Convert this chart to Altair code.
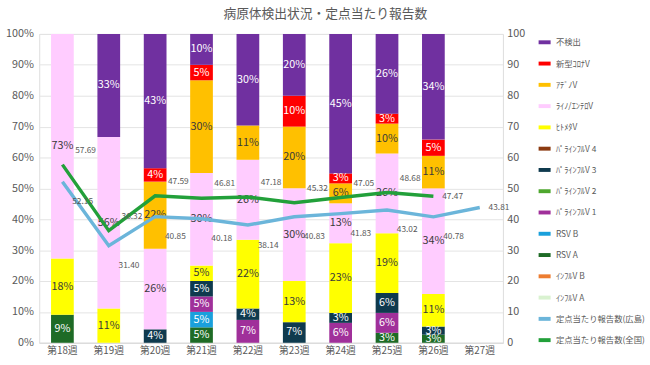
import altair as alt
import pandas as pd

FONT = "Noto Sans CJK JP"
GRAY = "#595959"

weeks = ["第18週", "第19週", "第20週", "第21週", "第22週", "第23週", "第24週", "第25週", "第26週", "第27週"]

# stacking order, bottom to top
names = ["ｲﾝﾌﾙV A", "ｲﾝﾌﾙV B", "RSV A", "RSV B", "ﾊﾟﾗｲﾝﾌﾙV 1", "ﾊﾟﾗｲﾝﾌﾙV 2",
         "ﾊﾟﾗｲﾝﾌﾙV 3", "ﾊﾟﾗｲﾝﾌﾙV 4", "ﾋﾄﾒﾀV", "ﾗｲﾉ/ｴﾝﾃﾛV", "ｱﾃﾞﾉV", "新型ｺﾛﾅV", "不検出"]
colors = ["#D9F2D0", "#ED7D31", "#1E6B26", "#1AA0DC", "#A0309A", "#4EA72E",
          "#0F3A4E", "#8B3A10", "#FFFF00", "#FFCCFF", "#FFC000", "#FF0000", "#7030A0"]

# percentage of samples per week (第18週 .. 第26週)
influ_a = [0, 0, 0, 0, 0, 0, 0, 0, 0]
influ_b = [0, 0, 0, 0, 0, 0, 0, 0, 0]
rsv_a = [9.09, 0, 0, 5, 0, 0, 0, 3.23, 2.63]
rsv_b = [0, 0, 0, 5, 0, 0, 0, 0, 0]
para1 = [0, 0, 0, 5, 7.41, 0, 6.45, 6.45, 0]
para2 = [0, 0, 0, 0, 0, 0, 0, 0, 0]
para3 = [0, 0, 4.35, 5, 3.70, 6.67, 3.23, 6.45, 2.63]
para4 = [0, 0, 0, 0, 0, 0, 0, 0, 0]
hmpv = [18.18, 11.11, 0, 5, 22.22, 13.33, 22.58, 19.35, 10.53]
rhino = [72.73, 55.56, 26.09, 30, 25.93, 30, 12.90, 25.81, 34.21]
adeno = [0, 0, 21.74, 30, 11.11, 20, 6.45, 9.68, 10.53]
covid = [0, 0, 4.35, 5, 0, 10, 3.23, 3.23, 5.26]
none_found = [0, 33.33, 43.48, 10, 29.63, 20, 45.16, 25.81, 34.21]
series = [influ_a, influ_b, rsv_a, rsv_b, para1, para2, para3, para4, hmpv, rhino, adeno, covid, none_found]

hiro_name = "定点当たり報告数(広島)"
zen_name = "定点当たり報告数(全国)"
hiroshima = [52.15, 31.40, 40.85, 40.18, 38.14, 40.83, 41.83, 43.02, 40.78, 43.81]
zenkoku = [57.69, 36.32, 47.59, 46.81, 47.18, 45.32, 47.05, 48.68, 47.47]
hiro_color = "#6BB5DA"
zen_color = "#22A03A"

dark_labels = ["ﾋﾄﾒﾀV", "ﾗｲﾉ/ｴﾝﾃﾛV", "ｱﾃﾞﾉV"]

rows = []
for i, (n, vals) in enumerate(zip(names, series)):
    for w, v in zip(weeks, vals):
        if v > 0:
            rows.append({"week": w, "name": n, "pct": v, "ord": i})
bars_df = pd.DataFrame(rows)

lrows = []
for k, (w, v) in enumerate(zip(weeks, hiroshima)):
    lrows.append({"week": w, "name": hiro_name, "val": v, "idx": k})
for k, (w, v) in enumerate(zip(weeks, zenkoku)):
    lrows.append({"week": w, "name": zen_name, "val": v, "idx": k})
line_df = pd.DataFrame(lrows)

legend_domain = names[::-1] + [hiro_name, zen_name]
legend_range = colors[::-1] + [hiro_color, zen_color]
color_scale = alt.Scale(domain=legend_domain, range=legend_range)
legend = alt.Legend(title=None, symbolType="stroke", symbolStrokeWidth=4, symbolSize=150,
                    labelFontSize=8.5, labelColor=GRAY, labelFont=FONT, rowPadding=4.7,
                    orient="right", offset=11, labelLimit=200, padding=0, labelOffset=3)

ticks = list(range(0, 101, 10))
x_enc = alt.X("week:N", scale=alt.Scale(domain=weeks, paddingInner=0.51, paddingOuter=0.255),
              axis=alt.Axis(title=None, labelAngle=0, ticks=False, domainColor="#D9D9D9",
                            labelFontSize=10, labelColor=GRAY, labelPadding=3))
yscale = alt.Scale(domain=[0, 100], nice=False)

left_axis = alt.Axis(values=ticks, labelExpr="datum.value + '%'", grid=True, gridColor="#E3E3E3",
                     domain=False, ticks=False, labelFontSize=11, labelColor=GRAY, labelPadding=6,
                     title=None)
right_axis = alt.Axis(orient="right", values=ticks, grid=False, domain=False, ticks=False,
                      labelFontSize=11, labelColor=GRAY, labelPadding=4, title=None)

base = alt.Chart(bars_df).transform_stack(
    stack="pct", groupby=["week"], sort=[alt.SortField("ord", order="ascending")], as_=["y0", "y1"]
).transform_calculate(
    mid="(datum.y0 + datum.y1) / 2",
    label="format(datum.pct, '.0f') + '%'",
)

bars = base.mark_bar().encode(
    x=x_enc,
    y=alt.Y("y0:Q", scale=yscale, axis=left_axis),
    y2="y1:Q",
    color=alt.Color("name:N", scale=color_scale, legend=legend),
)
bar_text = base.mark_text(fontSize=11, font=FONT).encode(
    x=x_enc,
    y=alt.Y("mid:Q", scale=yscale, axis=left_axis),
    text="label:N",
    color=alt.condition(alt.FieldOneOfPredicate(field="name", oneOf=dark_labels),
                        alt.value("#3A3A3A"), alt.value("white")),
)

lines = alt.Chart(line_df).mark_line(strokeWidth=3.5).encode(
    x=x_enc,
    y=alt.Y("val:Q", scale=yscale, axis=right_axis),
    color=alt.Color("name:N", scale=color_scale, legend=legend),
)

lab_base = alt.Chart(line_df).transform_joinaggregate(last="max(idx)", groupby=["name"])


def value_labels(series_name, is_last, dx, dy):
    test = "datum.idx == datum.last" if is_last else "datum.idx < datum.last"
    return lab_base.transform_filter(alt.datum.name == series_name).transform_filter(test).mark_text(
        fontSize=8.5, font=FONT, align="left", dx=dx, dy=dy, color=GRAY
    ).encode(x=x_enc, y=alt.Y("val:Q", scale=yscale, axis=right_axis),
             text=alt.Text("val:Q", format=".2f"))


label_layers = [
    value_labels(hiro_name, False, 10, 20),
    value_labels(hiro_name, True, 9, 0),
    value_labels(zen_name, False, 13, -15),
    value_labels(zen_name, True, 9, 0),
]

chart = alt.layer(
    alt.layer(bars, bar_text),
    alt.layer(lines, *label_layers),
).resolve_scale(y="independent").properties(
    width=473, height=315,
    title=alt.TitleParams("病原体検出状況・定点当たり報告数", fontSize=13, fontWeight="normal",
                          color=GRAY, font=FONT, anchor="middle", frame="bounds", offset=7),
).configure_view(stroke=None).configure(font=FONT)

chart.save("out.html", embed_options={"renderer": "svg", "actions": False})
